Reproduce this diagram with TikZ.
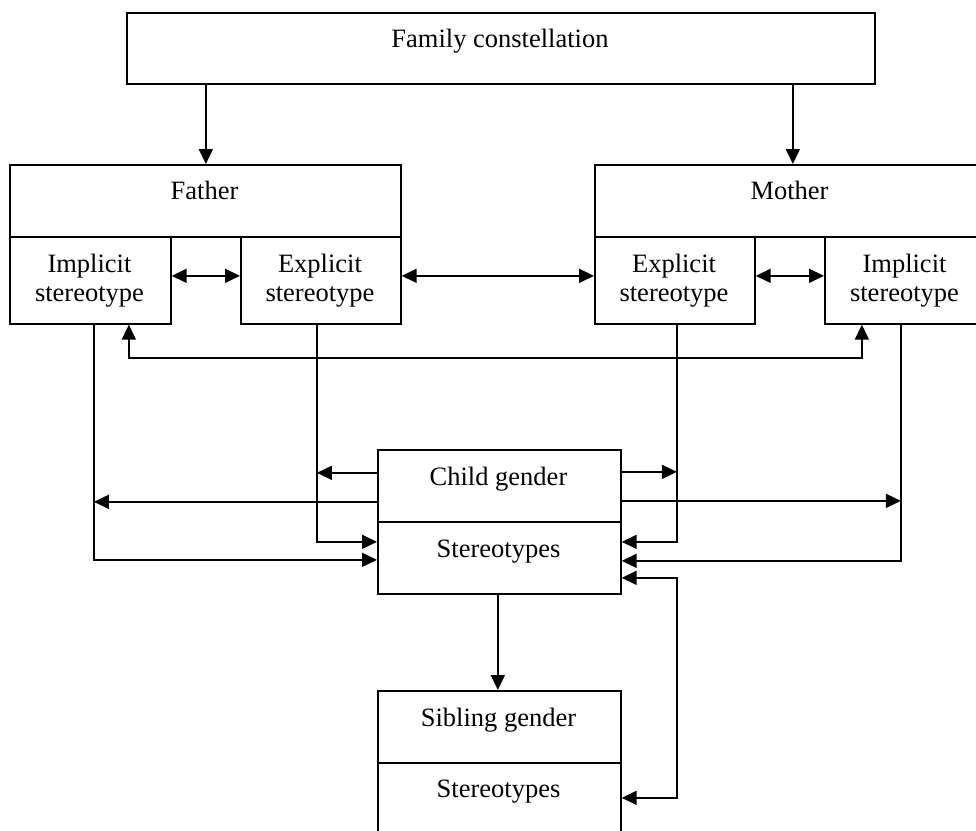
\documentclass[tikz,border=0pt]{standalone}
\usepackage{fontspec}
\setmainfont{Liberation Serif}
\usetikzlibrary{arrows.meta}
\begin{document}
\begin{tikzpicture}[x=1pt,y=-1pt,
  box/.style={draw,line width=1.7pt,rectangle,inner sep=0pt,anchor=north west},
  lbl/.style={anchor=base,inner sep=0pt,font=\fontsize{26.5}{31}\selectfont},
  arr/.style={line width=1.7pt,-{Triangle[length=15pt,width=14pt]}},
  darr/.style={line width=1.7pt,{Triangle[length=15pt,width=14pt]}-{Triangle[length=15pt,width=14pt]}}]
\useasboundingbox (0,0) rectangle (976,830);
\clip (0,0) rectangle (976,830);
% boxes
\node[box,minimum width=748pt,minimum height=71pt] (fam) at (126,12) {};
\node[box,minimum width=391pt,minimum height=72pt] (fa) at (9,164) {};
\node[box,minimum width=161pt,minimum height=87pt] (faI) at (9,236) {};
\node[box,minimum width=160pt,minimum height=87pt] (faE) at (240,236) {};
\node[box,minimum width=391pt,minimum height=72pt] (mo) at (594,164) {};
\node[box,minimum width=160pt,minimum height=87pt] (moE) at (594,236) {};
\node[box,minimum width=161pt,minimum height=87pt] (moI) at (824,236) {};
\node[box,minimum width=243pt,minimum height=72pt] (cg) at (377,449) {};
\node[box,minimum width=243pt,minimum height=72pt] (cs) at (377,521) {};
\node[box,minimum width=243pt,minimum height=72pt] (sg) at (377,690) {};
\node[box,minimum width=243pt,minimum height=100pt] (ss) at (377,762) {};
% texts
\node[lbl] (tfam) at (500,47) {Family constellation};
\node[lbl] (tfa) at (204.5,199) {Father};
\node[lbl] (tmo) at (789.5,199) {Mother};
\node[lbl] (tfaI1) at (89.5,272) {Implicit};
\node[lbl] (tfaI2) at (89.5,301) {stereotype};
\node[lbl] (tfaE1) at (320,272) {Explicit};
\node[lbl] (tfaE2) at (320,301) {stereotype};
\node[lbl] (tmoE1) at (674,272) {Explicit};
\node[lbl] (tmoE2) at (674,301) {stereotype};
\node[lbl] (tmoI1) at (904.5,272) {Implicit};
\node[lbl] (tmoI2) at (904.5,301) {stereotype};
\node[lbl] (tcg) at (498.5,485) {Child gender};
\node[lbl] (tcs) at (498.5,557) {Stereotypes};
\node[lbl] (tsg) at (498.5,726) {Sibling gender};
\node[lbl] (tss) at (498.5,797) {Stereotypes};
% coordinates
\coordinate (fIx) at ([xshift=3.5pt]faI.south);
\coordinate (fEx) at ([xshift=-4pt]faE.south);
\coordinate (mEx) at ([xshift=2pt]moE.south);
\coordinate (mIx) at ([xshift=-4.5pt]moI.south);
\coordinate (cgL1) at ([yshift=13pt]cg.west);
\coordinate (cgL2) at ([yshift=-16pt]cg.west);
\coordinate (cgR1) at ([yshift=14pt]cg.east);
\coordinate (cgR2) at ([yshift=-15pt]cg.east);
\coordinate (csL1) at ([yshift=16pt]cs.west);
\coordinate (csL2) at ([yshift=-2pt]cs.west);
\coordinate (csR1) at ([yshift=16pt]cs.east);
\coordinate (csR2) at ([yshift=-3pt]cs.east);
\coordinate (csR3) at ([yshift=-20pt]cs.east);
\coordinate (ssR) at ([yshift=15pt]ss.east);
% connectors
\draw[arr] ([xshift=0.5pt]fam.south -| fa.north) -- ([xshift=0.5pt]fa.north);
\draw[arr] ([xshift=2.5pt]fam.south -| mo.north) -- ([xshift=2.5pt]mo.north);
\draw[darr] ([yshift=4.5pt]faI.east) -- ([yshift=4.5pt]faE.west);
\draw[darr] ([yshift=4.5pt]faE.east) -- ([yshift=4.5pt]moE.west);
\draw[darr] ([yshift=4.5pt]moE.east) -- ([yshift=4.5pt]moI.west);
\draw[darr] ([xshift=38.5pt]faI.south) -- ++(0,33.5) -| ([xshift=-43.5pt]moI.south);
\draw[arr] (cgL1) -- (cgL1 -| fEx);
\draw[arr] (cgL2) -- (cgL2 -| fIx);
\draw[arr] (cgR1) -- (cgR1 -| mEx);
\draw[arr] (cgR2) -- (cgR2 -| mIx);
\draw[arr] (fIx) |- (csL2);
\draw[arr] (fEx) |- (csL1);
\draw[arr] (mEx) |- (csR1);
\draw[arr] (mIx) |- (csR2);
\draw[darr] (csR3) -| (ssR -| mEx) -- (ssR);
\draw[arr] ([xshift=-1.5pt]cs.south) -- ([xshift=-1.5pt]sg.north);
\end{tikzpicture}
\end{document}
